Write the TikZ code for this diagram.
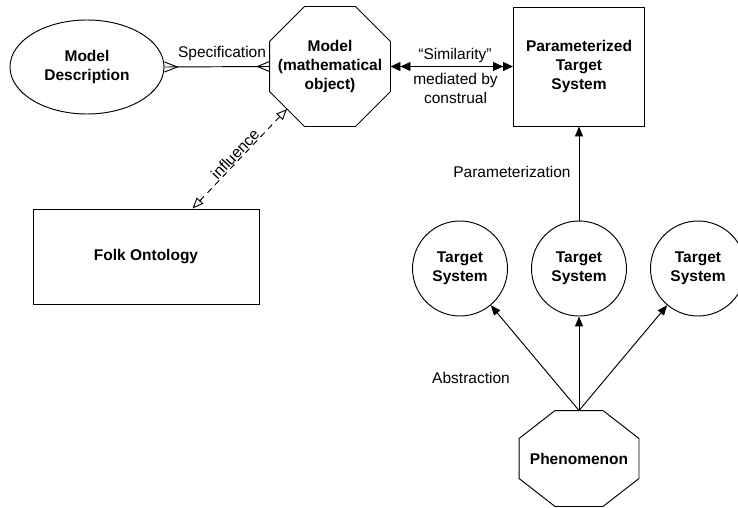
\documentclass[tikz,border=0pt]{standalone}
\usepackage{fontspec}
\setmainfont{Liberation Sans}
\usetikzlibrary{arrows.meta,shapes.geometric,calc}
\begin{document}
\begin{tikzpicture}[x=1pt,y=-1pt,line width=0.95pt,
  every node/.style={font=\fontsize{15.5}{19}\selectfont,align=center,inner sep=0pt},
  lbl/.style={},
  bnode/.style={font=\fontsize{15.5}{19}\selectfont\bfseries},
  boxnode/.style={bnode,draw,rectangle},
  octnode/.style={bnode,rectangle},
  tcircle/.style={bnode,draw,circle,minimum size=95pt},
  solidarrow/.style={-{Triangle[length=10pt,width=8pt]}},
  dblarrow/.style={{Triangle[length=10pt,width=9pt]Triangle[length=10pt,width=9pt]}-{Triangle[length=10pt,width=9pt]Triangle[length=10pt,width=9pt]}},
  openarrow/.style={{Triangle[open,length=11pt,width=9pt]}-{Triangle[open,length=11pt,width=9pt]},dash pattern=on 6pt off 5pt}
]
\useasboundingbox (0,0) rectangle (738,508);

% Nodes
\node[bnode,draw,ellipse,minimum width=154pt,minimum height=94pt] (md) at (87,67) {Model\\Description};
\node[octnode,minimum width=120pt,minimum height=119pt] (mo) at (330,66.5) {Model\\(mathematical\\object)};
\draw (mo.north west) ++(35,0) -- ($(mo.north east)+(-35,0)$) -- ($(mo.north east)+(0,35)$)
  -- ($(mo.south east)+(0,-35)$) -- ($(mo.south east)+(-35,0)$) -- ($(mo.south west)+(35,0)$)
  -- ($(mo.south west)+(0,-35)$) -- ($(mo.north west)+(0,35)$) -- cycle;
\node[boxnode,minimum width=131pt,minimum height=119pt] (pts) at (579,66.5) {Parameterized\\Target\\System};
\node[boxnode,minimum width=226pt,minimum height=95pt] (fo) at (146,256.5) {Folk Ontology};
\node[tcircle] (t1) at (460,268.5) {Target\\System};
\node[tcircle] (t2) at (579,268.5) {Target\\System};
\node[tcircle] (t3) at (698,268.5) {Target\\System};
\node[octnode,minimum width=119pt,minimum height=95pt] (ph) at (579,458.5) {Phenomenon};
\draw (ph.north west) ++(36,0) -- ($(ph.north east)+(-36,0)$) -- ($(ph.north east)+(0,28)$)
  -- ($(ph.south east)+(0,-28)$) -- ($(ph.south east)+(-36,0)$) -- ($(ph.south west)+(36,0)$)
  -- ($(ph.south west)+(0,-28)$) -- ($(ph.north west)+(0,28)$) -- cycle;

% Specification with crow's feet
\draw (md.east) -- (mo.west);
\draw ($(md.east)+(0,-5)$) -- ($(md.east)+(13,0)$) -- ($(md.east)+(0,5)$);
\draw ($(mo.west)+(0,-5)$) -- ($(mo.west)+(-12,0)$) -- ($(mo.west)+(0,5)$);
\node[lbl] (spec) at (222,53) {Specification};

% Similarity
\draw[dblarrow] (mo.east) -- (pts.west);
\node[lbl] (sim) at (455,55) {“Similarity”};
\node[lbl] (med) at (455.5,88) {mediated by\\construal};

% Influence
\coordinate (inf1) at ($(fo.north west)+(160,0)$);
\coordinate (inf2) at ($(mo.south west)+(17.5,-17.5)$);
\draw[openarrow] (inf1) -- node[sloped,above=0.5pt,font=\fontsize{15.5}{19}\selectfont] {influence} (inf2);

% Parameterization
\draw[solidarrow] (t2.north) -- (pts.south);
\node[lbl,anchor=east] (par) at (571,172) {Parameterization};

% Abstraction
\draw[solidarrow] (ph.north) -- (t1);
\draw[solidarrow] (ph.north) -- (t2.south);
\draw[solidarrow] (ph.north) -- (t3);
\node[lbl] (abs) at (471,378) {Abstraction};
\end{tikzpicture}
\end{document}
